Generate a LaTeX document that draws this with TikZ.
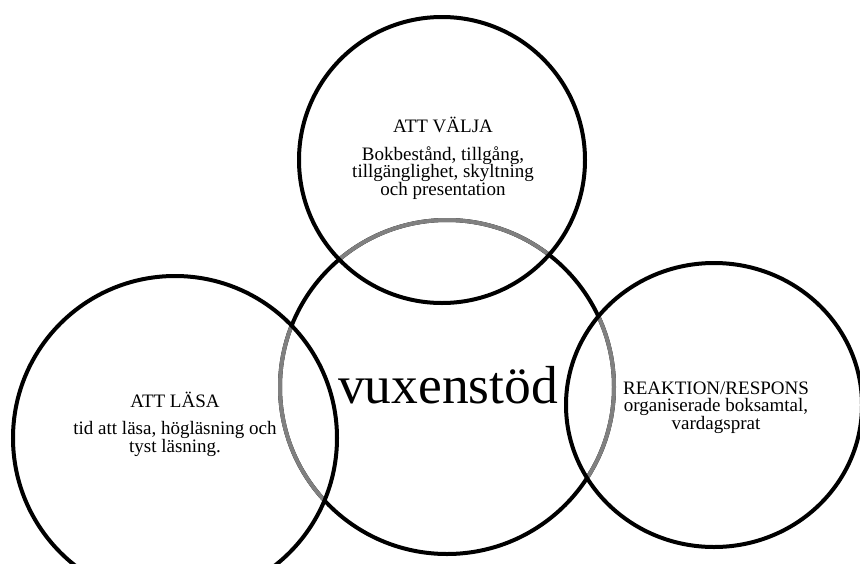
\documentclass[tikz,border=0pt]{standalone}
\usepackage{fontspec}
\setmainfont{Liberation Serif}
\begin{document}
\begin{tikzpicture}[x=1pt,y=1pt,yscale=-1,
  ring/.style={line width=4pt},
  faded/.style={line width=4pt,color={rgb,255:red,128;green,128;blue,128}},
  label/.style={align=center,font=\fontsize{19}{17.5}\selectfont,inner sep=0pt,anchor=base}]
\useasboundingbox (0,0) rectangle (860,563);

% middle circle, grey where it runs inside the others
\draw [ring] (447,387) circle (167);
\foreach \cx/\cy/\rx/\ry in {442/160/143/143, 175/438/162/162, 714/405/148/142}{
  \begin{scope}
    \clip (\cx,\cy) ellipse [x radius=\rx, y radius=\ry];
    \draw [faded] (447,387) circle (167);
  \end{scope}
  \draw [ring] (\cx,\cy) ellipse [x radius=\rx, y radius=\ry];
}

% Text Node
\node [label] (valja) at (443,195) {ATT VÄLJA\\[10pt]Bokbestånd, tillgång,\\tillgänglighet, skyltning\\och presentation};
% Text Node
\node [label] (lasa) at (175,452) {ATT LÄSA\\[10pt]tid att läsa, högläsning och\\tyst läsning.};
% Text Node
\node [label] (respons) at (716,429) {REAKTION/RESPONS\\organiserade boksamtal,\\vardagsprat};
% Text Node
\node [inner sep=0pt,anchor=base,font=\fontsize{53.5}{53.5}\selectfont] (stod) at (448,403) {vuxenstöd};

\end{tikzpicture}
\end{document}
